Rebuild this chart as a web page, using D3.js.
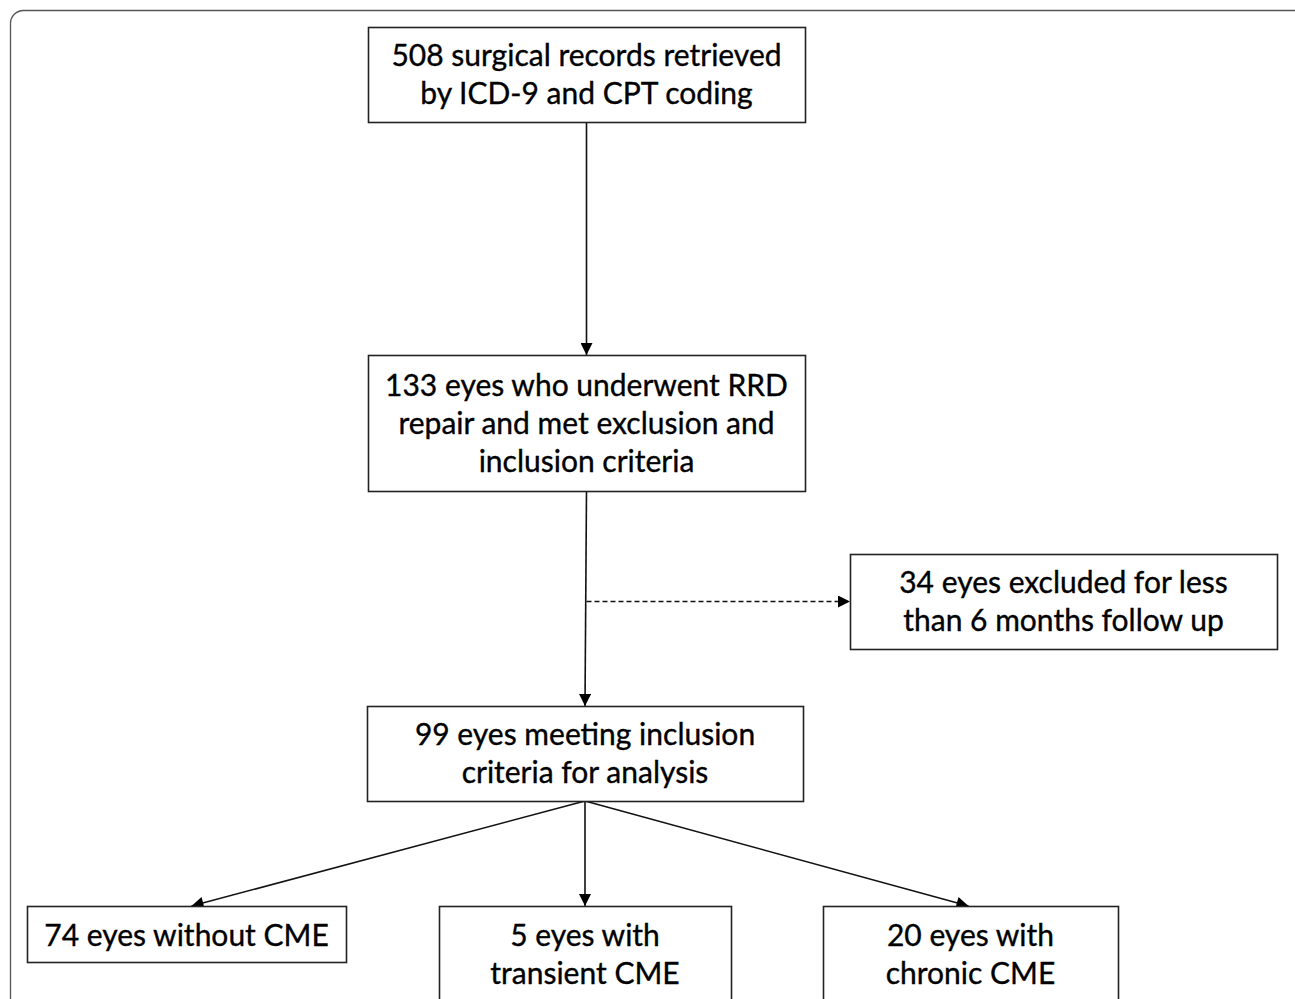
<!DOCTYPE html>
<html>
<head>
<meta charset="utf-8">
<script src="https://cdnjs.cloudflare.com/ajax/libs/d3/7.8.5/d3.min.js"></script>
<style>
  html, body { margin: 0; padding: 0; background: #fff; }
  svg { display: block; }
</style>
</head>
<body>
<div id="chart"></div>
<script>
// node labels (one entry per line)
var labels = [
  ['508 surgical records retrieved', 'by ICD-9 and CPT coding'],
  ['133 eyes who underwent RRD', 'repair and met exclusion and', 'inclusion criteria'],
  ['34 eyes excluded for less', 'than 6 months follow up'],
  ['99 eyes meeting inclusion', 'criteria for analysis'],
  ['74 eyes without CME'],
  ['5 eyes with', 'transient CME'],
  ['20 eyes with', 'chronic CME']
];

// links between nodes: [from, to, dashed]
var links = [
  [0, 1, false],
  [1, 3, false],
  [1, 2, true],
  [3, 4, false],
  [3, 5, false],
  [3, 6, false]
];

// layout of the boxes (x0, y0, x1, y1)
var boxes = [
  [368, 27, 805, 122],
  [368, 355, 805, 491],
  [850, 554, 1277, 649],
  [367, 706, 803, 801],
  [27, 906, 346, 962],
  [439, 906, 731, 1010],
  [823, 906, 1118, 1010]
];

var width = 1295;
var height = 999;
var lineH = 38;

var svg = d3.select('#chart').append('svg')
  .attr('width', width)
  .attr('height', height);

var defs = svg.append('defs');
defs.append('marker')
  .attr('id', 'arrow')
  .attr('viewBox', '0 0 10 10')
  .attr('refX', 10)
  .attr('refY', 5)
  .attr('markerWidth', 15)
  .attr('markerHeight', 12)
  .attr('markerUnits', 'userSpaceOnUse')
  .attr('orient', 'auto')
  .append('path')
  .attr('d', 'M0,0L10,5L0,10Z')
  .attr('fill', '#000');

// outer frame
svg.append('rect')
  .attr('x', 10.5)
  .attr('y', 10.5)
  .attr('width', 1300)
  .attr('height', 1100)
  .attr('rx', 13)
  .attr('fill', 'none')
  .attr('stroke', '#555')
  .attr('stroke-width', 1.3);

function cx(b) { return (b[0] + b[2]) / 2; }

// anchor points of the links
function linkPath(l) {
  var a = boxes[l[0]], b = boxes[l[1]];
  var sx = cx(a), sy = a[3];
  if (l[2]) {
    // branch off the vertical line towards the side box
    var ty = (b[1] + b[3]) / 2;
    return [[cx(boxes[1]), ty], [b[0], ty]];
  }
  return [[sx, sy], [cx(b) + (l[1] === 4 ? 5 : 0) - (l[1] === 6 ? 2 : 0), b[1]]];
}

var line = d3.line();

svg.append('g').selectAll('path')
  .data(links)
  .join('path')
  .attr('d', function(d) { return line(linkPath(d)); })
  .attr('fill', 'none')
  .attr('stroke', '#111')
  .attr('stroke-width', 1.6)
  .attr('stroke-dasharray', function(d) { return d[2] ? '5,3' : null; })
  .attr('marker-end', 'url(#arrow)');

var node = svg.append('g').selectAll('g')
  .data(labels)
  .join('g');

node.append('rect')
  .attr('x', function(d, i) { return boxes[i][0] + 0.5; })
  .attr('y', function(d, i) { return boxes[i][1] + 0.5; })
  .attr('width', function(d, i) { return boxes[i][2] - boxes[i][0]; })
  .attr('height', function(d, i) { return boxes[i][3] - boxes[i][1]; })
  .attr('fill', '#fff')
  .attr('stroke', '#222')
  .attr('stroke-width', 1.6);

node.each(function(d, i) {
  var b = boxes[i];
  var top = (i >= 4) ? 935 : (b[1] + b[3]) / 2 - (d.length - 1) * lineH / 2;
  d3.select(this).selectAll('text')
    .data(d)
    .join('text')
    .attr('x', cx(b))
    .attr('y', function(t, j) { return top + j * lineH; })
    .attr('dy', '0.35em')
    .attr('text-anchor', 'middle')
    .attr('font-family', 'Lato, "Open Sans", sans-serif')
    .attr('font-size', 30)
    .attr('fill', '#000')
    .attr('stroke', '#000')
    .attr('stroke-width', 0.35)
    .text(function(t) { return t; });
});
</script>
</body>
</html>
